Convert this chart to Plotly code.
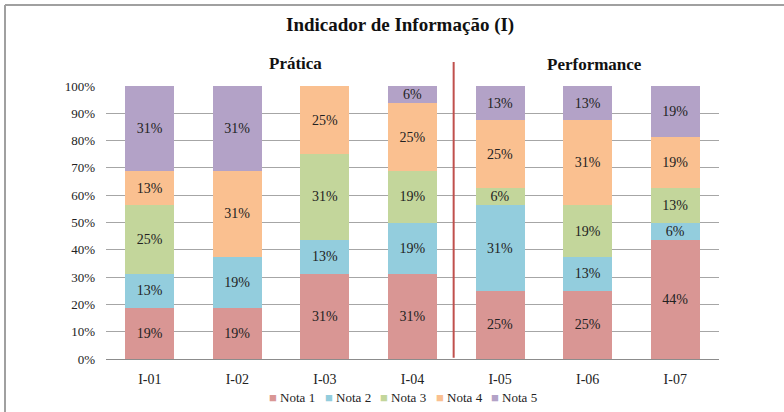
import plotly.graph_objects as go

# Categories and share of each grade (%), 16 answers per indicator
categorias = ['I-01', 'I-02', 'I-03', 'I-04', 'I-05', 'I-06', 'I-07']
nota1 = [18.75, 18.75, 31.25, 31.25, 25.00, 25.00, 43.75]
nota2 = [12.50, 18.75, 12.50, 18.75, 31.25, 12.50, 6.25]
nota3 = [25.00, 0.00, 31.25, 18.75, 6.25, 18.75, 12.50]
nota4 = [12.50, 31.25, 25.00, 25.00, 25.00, 31.25, 18.75]
nota5 = [31.25, 31.25, 0.00, 6.25, 12.50, 12.50, 18.75]
y_ticks = [0, 10, 20, 30, 40, 50, 60, 70, 80, 90, 100]

series = [
    ('Nota 1', nota1, '#D99694'),
    ('Nota 2', nota2, '#93CDDD'),
    ('Nota 3', nota3, '#C3D69B'),
    ('Nota 4', nota4, '#FAC090'),
    ('Nota 5', nota5, '#B3A2C7'),
]

serif = 'Liberation Serif, Times New Roman, serif'

# plot area in pixels: x 106..719, y 86..359
W, H = 784, 412
L, R, T, B = 106, 65, 86, 53
pw, ph = W - L - R, H - T - B


def px(x):
    return (x - L) / pw


def py(y):
    return (H - B - y) / ph


fig = go.Figure()
for nome, valores, cor in series:
    fig.add_trace(go.Bar(
        x=categorias,
        y=valores,
        name=nome,
        marker=dict(color=cor, line=dict(width=0)),
        text=[f'{v:.0f}%' if v > 0 else '' for v in [round(v + 1e-9) for v in valores]],
        textposition='inside',
        insidetextanchor='middle',
        textangle=0,
        textfont=dict(family=serif, size=14, color='#222222'),
        constraintext='none',
        showlegend=False,
    ))

# compact legend below the plot, like the original
for i, (nome, _, cor) in enumerate(series):
    fig.add_annotation(
        text=f'<span style="color:{cor}">■</span> {nome}',
        xref='paper', yref='paper',
        x=px(267 + 55.5 * i), y=py(397),
        xanchor='left', yanchor='middle', showarrow=False,
        font=dict(family=serif, size=13, color='#222222'))

fig.update_layout(
    barmode='stack',
    bargap=0.44,
    width=W,
    height=H,
    margin=dict(l=L, r=R, t=T, b=B, autoexpand=False),
    paper_bgcolor='white',
    plot_bgcolor='white',
    font=dict(family=serif, size=13, color='#222222'),
    showlegend=False,
    uniformtext=dict(mode=False),
)

fig.update_xaxes(
    showgrid=False,
    showline=False,
    ticks='',
    ticklabelstandoff=10,
    tickfont=dict(family=serif, size=14),
)
fig.update_yaxes(
    range=[0, 100],
    tickvals=y_ticks,
    ticktext=[f'{t}%' for t in y_ticks],
    showgrid=True,
    gridcolor='#A6A6A6',
    gridwidth=1,
    zeroline=True,
    zerolinecolor='#8C8C8C',
    zerolinewidth=1,
    ticks='',
    ticklabelstandoff=10,
    tickfont=dict(family=serif, size=13),
)

# Separator between "Prática" and "Performance"
fig.add_shape(type='line', xref='x', yref='paper',
              x0=3.47, x1=3.47, y0=0.005, y1=py(62),
              line=dict(color='#C0504D', width=2))

# Outer chart border (top and left visible)
fig.add_shape(type='line', xref='paper', yref='paper',
              x0=px(5), x1=px(790), y0=py(5), y1=py(5),
              line=dict(color='#A0A0A0', width=2))
fig.add_shape(type='line', xref='paper', yref='paper',
              x0=px(5), x1=px(5), y0=py(5), y1=py(420),
              line=dict(color='#A0A0A0', width=2))

fig.add_annotation(text='<b>Indicador de Informação (I)</b>', xref='paper', yref='paper',
                   x=px(400), y=py(25), showarrow=False, xanchor='center', yanchor='middle',
                   font=dict(family=serif, size=19, color='#111111'))
fig.add_annotation(text='<b>Prática</b>', xref='paper', yref='paper',
                   x=px(295), y=py(63), showarrow=False, xanchor='center', yanchor='middle',
                   font=dict(family=serif, size=17, color='#111111'))
fig.add_annotation(text='<b>Performance</b>', xref='paper', yref='paper',
                   x=px(594), y=py(64), showarrow=False, xanchor='center', yanchor='middle',
                   font=dict(family=serif, size=17, color='#111111'))

fig.write_html('out.html', config={'displayModeBar': False},
               post_script="document.body.style.margin='0';")
